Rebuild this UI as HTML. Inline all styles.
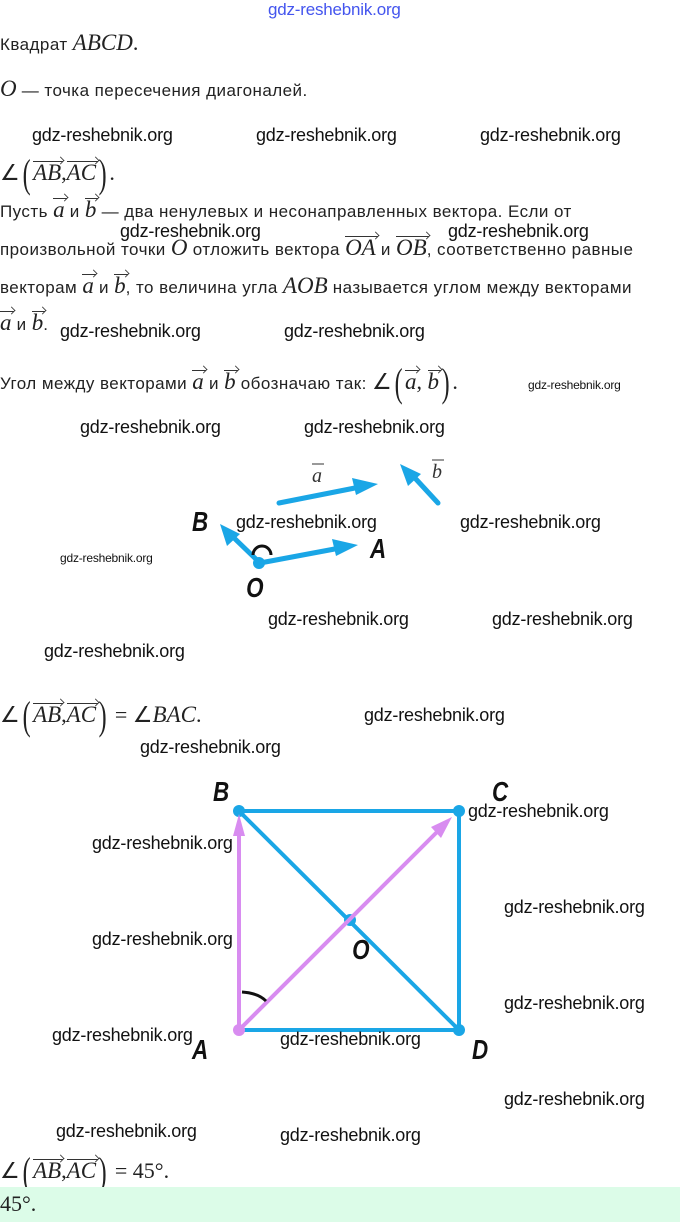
<!DOCTYPE html>
<html><head><meta charset="utf-8"><style>
body{margin:0;width:680px;height:1222px;position:relative;background:#fff;font-family:"Liberation Sans","DejaVu Sans",sans-serif;color:#222;overflow:hidden}
.t{position:absolute;left:0;white-space:nowrap;font-size:17px;letter-spacing:0.45px}
.m{font-family:"Liberation Serif",serif;font-style:italic;font-size:23px;letter-spacing:0}
.r{font-family:"Liberation Serif",serif;font-size:22px;letter-spacing:0}
.v{position:relative;display:inline-block}
.v::before{content:"";position:absolute;left:0;right:-2px;top:1px;border-top:1px solid #333}
.v::after{content:"";position:absolute;right:-3px;top:-3px;width:6px;height:6px;border-right:1px solid #333;border-top:1px solid #333;transform:rotate(45deg) scale(.8)}
.p{font-family:"Liberation Serif",serif;font-size:40px;font-weight:100;vertical-align:-7px;transform:scaleX(.6);display:inline-block;letter-spacing:0}
.w{position:absolute;white-space:nowrap;font-size:18px;color:#111;font-family:"Liberation Sans",sans-serif;letter-spacing:-0.2px}
.ws{font-size:12px}
.lb{position:absolute;font-family:"Liberation Sans",sans-serif;font-style:italic;font-weight:bold;font-size:28px;color:#111;transform:scaleX(.8)}
</style></head><body>
<div class="w" style="left:268px;top:0px;color:#4455ee;font-size:17px">gdz-reshebnik.org</div>
<div class="t" style="top:30px">Квадрат <span class="m">ABCD</span><span class="r">.</span></div>
<div class="t" style="top:76px"><span class="m">O</span> — точка пересечения диагоналей.</div>
<div class="w" style="left:32px;top:125px">gdz-reshebnik.org</div>
<div class="w" style="left:256px;top:125px">gdz-reshebnik.org</div>
<div class="w" style="left:480px;top:125px">gdz-reshebnik.org</div>
<div class="t" style="top:150px"><span class="r">∠</span><span class="p">(</span><span class="m v">AB</span><span class="r">,</span><span class="m v">AC</span><span class="p">)</span><span class="r">.</span></div>
<div class="t" style="top:197px">Пусть <span class="m v">a</span> и <span class="m v">b</span> — два ненулевых и несонаправленных вектора. Если от</div>
<div class="w" style="left:120px;top:221px">gdz-reshebnik.org</div>
<div class="w" style="left:448px;top:221px">gdz-reshebnik.org</div>
<div class="t" style="top:235px">произвольной точки <span class="m">O</span> отложить вектора <span class="m v">OA</span> и <span class="m v">OB</span>, соответственно равные</div>
<div class="t" style="top:273px">векторам <span class="m v">a</span> и <span class="m v">b</span>, то величина угла <span class="m">AOB</span> называется углом между векторами</div>
<div class="t" style="top:310px"><span class="m v">a</span> и <span class="m v">b</span>.</div>
<div class="w" style="left:60px;top:321px">gdz-reshebnik.org</div>
<div class="w" style="left:284px;top:321px">gdz-reshebnik.org</div>
<div class="t" style="top:359px">Угол между векторами <span class="m v">a</span> и <span class="m v">b</span> обозначаю так: <span class="r">∠</span><span class="p">(</span><span class="m v">a</span><span class="r">, </span><span class="m v">b</span><span class="p">)</span><span class="r">.</span></div>
<div class="w ws" style="left:528px;top:378px">gdz-reshebnik.org</div>
<div class="w" style="left:80px;top:417px">gdz-reshebnik.org</div>
<div class="w" style="left:304px;top:417px">gdz-reshebnik.org</div>

<svg style="position:absolute;left:0;top:0" width="680" height="1222">
<g stroke="#1aa6e6" stroke-width="5" fill="#1aa6e6" stroke-linecap="round">
<line x1="279" y1="503" x2="360" y2="487"/><polygon points="378,484 352,478 356,495" stroke="none"/>
<line x1="438" y1="503" x2="414" y2="477"/><polygon points="400,464 408,486 421,474" stroke="none"/>
<line x1="260" y1="563" x2="340" y2="548"/><polygon points="358,545 332,539 336,556" stroke="none"/>
<line x1="260" y1="563" x2="232" y2="536"/><polygon points="220,524 227,546 240,534" stroke="none"/>
<circle cx="259" cy="563" r="6" stroke="none"/>
</g>
<path d="M253 555 A9 9 0 0 1 271 555" stroke="#111" stroke-width="3" fill="none"/>
<text x="312" y="482" font-family="Liberation Serif" font-style="italic" font-size="20" fill="#333">a</text>
<line x1="312" y1="464" x2="324" y2="464" stroke="#333"/>
<text x="432" y="478" font-family="Liberation Serif" font-style="italic" font-size="20" fill="#333">b</text>
<line x1="432" y1="460" x2="444" y2="460" stroke="#333"/>
<g stroke="#1aa6e6" stroke-width="4" fill="#1aa6e6">
<line x1="239" y1="811" x2="459" y2="811"/><line x1="459" y1="811" x2="459" y2="1030"/>
<line x1="239" y1="1030" x2="459" y2="1030"/><line x1="239" y1="811" x2="459" y2="1030"/>
<circle cx="239" cy="811" r="6" stroke="none"/><circle cx="459" cy="811" r="6" stroke="none"/>
<circle cx="459" cy="1030" r="6" stroke="none"/><circle cx="350" cy="920" r="6" stroke="none"/>
</g>
<g stroke="#d88cf0" stroke-width="4" fill="#d88cf0">
<line x1="239" y1="1030" x2="239" y2="830"/><polygon points="239,814 233,836 245,836" stroke="none"/>
<line x1="239" y1="1030" x2="440" y2="829"/><polygon points="452,817 431,827 441,838" stroke="none"/>
<circle cx="239" cy="1030" r="6" stroke="none"/>
</g>
<path d="M242 992 Q258 993 266 1001" stroke="#111" stroke-width="3" fill="none"/>
</svg>
<div class="lb" style="left:190px;top:506px">B</div>
<div class="lb" style="left:368px;top:533px">A</div>
<div class="lb" style="left:244px;top:572px">O</div>
<div class="lb" style="left:211px;top:776px">B</div>
<div class="lb" style="left:490px;top:776px">C</div>
<div class="lb" style="left:350px;top:934px">O</div>
<div class="lb" style="left:190px;top:1034px">A</div>
<div class="lb" style="left:470px;top:1034px">D</div>

<div class="w" style="left:236px;top:512px">gdz-reshebnik.org</div>
<div class="w" style="left:460px;top:512px">gdz-reshebnik.org</div>
<div class="w ws" style="left:60px;top:551px">gdz-reshebnik.org</div>
<div class="w" style="left:268px;top:609px">gdz-reshebnik.org</div>
<div class="w" style="left:492px;top:609px">gdz-reshebnik.org</div>
<div class="w" style="left:44px;top:641px">gdz-reshebnik.org</div>
<div class="t" style="top:692px"><span class="r">∠</span><span class="p">(</span><span class="m v">AB</span><span class="r">,</span><span class="m v">AC</span><span class="p">)</span><span class="r"> = ∠</span><span class="m">BAC</span><span class="r">.</span></div>
<div class="w" style="left:364px;top:705px">gdz-reshebnik.org</div>
<div class="w" style="left:140px;top:737px">gdz-reshebnik.org</div>
<div class="w" style="left:468px;top:801px">gdz-reshebnik.org</div>
<div class="w" style="left:92px;top:833px">gdz-reshebnik.org</div>
<div class="w" style="left:504px;top:897px">gdz-reshebnik.org</div>
<div class="w" style="left:92px;top:929px">gdz-reshebnik.org</div>
<div class="w" style="left:504px;top:993px">gdz-reshebnik.org</div>
<div class="w" style="left:52px;top:1025px">gdz-reshebnik.org</div>
<div class="w" style="left:280px;top:1029px">gdz-reshebnik.org</div>
<div class="w" style="left:504px;top:1089px">gdz-reshebnik.org</div>
<div class="w" style="left:56px;top:1121px">gdz-reshebnik.org</div>
<div class="w" style="left:280px;top:1125px">gdz-reshebnik.org</div>
<div class="t" style="top:1148px"><span class="r">∠</span><span class="p">(</span><span class="m v">AB</span><span class="r">,</span><span class="m v">AC</span><span class="p">)</span><span class="r"> = 45°.</span></div>
<div style="position:absolute;left:0;top:1187px;width:680px;height:35px;background:#dcfce8"></div>
<div class="t" style="top:1191px"><span class="r">45°.</span></div>
</body></html>
